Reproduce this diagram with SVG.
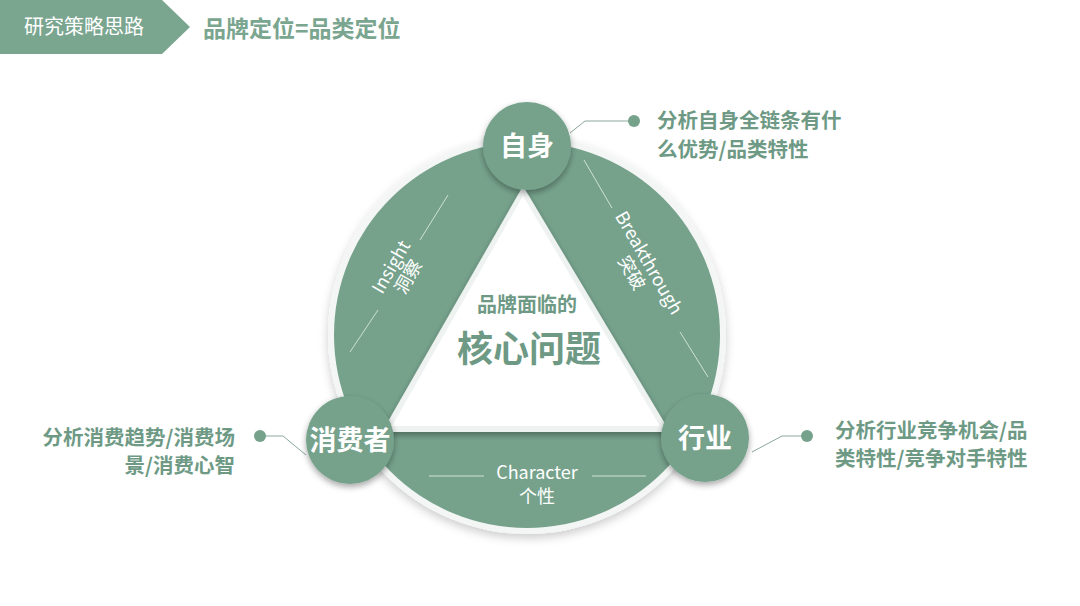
<svg xmlns="http://www.w3.org/2000/svg" width="1080" height="606" viewBox="0 0 1080 606">
<defs>
<filter id="sh" x="-20%" y="-20%" width="140%" height="140%"><feDropShadow dx="0" dy="4" stdDeviation="5" flood-color="#000" flood-opacity="0.2"/></filter>
<filter id="sh2" x="-20%" y="-20%" width="140%" height="140%"><feDropShadow dx="0" dy="3" stdDeviation="3" flood-color="#000" flood-opacity="0.35"/></filter>
</defs>
<style>
text{font-family:"Noto Sans CJK SC","Noto Sans",sans-serif}
.node{fill:#76a28c}
.nt{fill:#fff;font-size:27px;font-weight:bold;text-anchor:middle}
.lab{fill:#fff;font-size:18px;text-anchor:middle}
.cap{fill:#6e9a85;font-size:20.5px;font-weight:bold}
.ln{stroke:#8aa89a;stroke-width:1;fill:none}
.wl{stroke:#cfe0d7;stroke-width:1}
</style>
<rect width="1080" height="606" fill="#fff"/>
<g id="header">
<polygon points="0,0 162,0 190,27 162,54 0,54" fill="#7aa58f"/>
<text x="24" y="34" fill="#fff" font-size="20">研究策略思路</text>
<text x="203" y="37" fill="#7aa58f" font-size="23" font-weight="bold">品牌定位=品类定位</text>
</g>
<g id="disc">
<circle cx="527" cy="335" r="199" fill="#f4f6f5" filter="url(#sh)"/>
<circle cx="527" cy="335" r="193" fill="#76a28c"/>
<polygon points="523,186 382,432 670,432" fill="#eef2f0" filter="url(#sh2)"/>
<polygon points="523,196 392,426 660,426" fill="#fff"/>
</g>
<g id="connectors">
<line class="wl" x1="448" y1="195" x2="420" y2="240"/>
<line class="wl" x1="378" y1="310" x2="350" y2="352"/>
<line class="wl" x1="584" y1="160" x2="612" y2="208"/>
<line class="wl" x1="680" y1="332" x2="708" y2="377"/>
<line class="wl" x1="429" y1="476" x2="484" y2="476"/>
<line class="wl" x1="592" y1="476" x2="646" y2="476"/>
<polyline class="ln" points="634,121 585,121 570,133"/>
<circle cx="634" cy="121" r="6" fill="#76a28c"/>
<polyline class="ln" points="260,436 283,436 306,455"/>
<circle cx="260" cy="436" r="6" fill="#76a28c"/>
<polyline class="ln" points="807,436 782,436 752,452"/>
<circle cx="807" cy="436" r="6" fill="#76a28c"/>
</g>
<g id="n-self"><circle class="node" cx="527" cy="146" r="44" filter="url(#sh2)"/><text class="nt" x="527" y="156">自身</text></g>
<g id="n-consumer"><circle class="node" cx="350" cy="440" r="44" filter="url(#sh2)"/><text class="nt" x="350" y="450">消费者</text></g>
<g id="n-industry"><circle class="node" cx="705" cy="438" r="44" filter="url(#sh2)"/><text class="nt" x="705" y="448">行业</text></g>
<g id="labels">
<g transform="translate(400,272) rotate(-60)"><text class="lab" x="0" y="-4">Insight</text><text class="lab" x="0" y="16" font-size="15">洞察</text></g>
<g transform="translate(640,268) rotate(60)"><text class="lab" x="0" y="-4">Breakthrough</text><text class="lab" x="0" y="16" font-size="15">突破</text></g>
<text class="lab" x="537" y="479">Character</text>
<text class="lab" x="537" y="503" font-size="15">个性</text>
<text x="527" y="312" fill="#6e9a85" font-size="20" font-weight="bold" text-anchor="middle">品牌面临的</text>
<text x="529" y="362" fill="#6e9a85" font-size="36" font-weight="bold" text-anchor="middle">核心问题</text>
</g>
<g id="captions">
<text class="cap" x="657" y="128">分析自身全链条有什</text>
<text class="cap" x="657" y="157">么优势/品类特性</text>
<text class="cap" x="235" y="445" text-anchor="end">分析消费趋势/消费场</text>
<text class="cap" x="235" y="473" text-anchor="end">景/消费心智</text>
<text class="cap" x="835" y="438">分析行业竞争机会/品</text>
<text class="cap" x="835" y="466">类特性/竞争对手特性</text>
</g>
</svg>
